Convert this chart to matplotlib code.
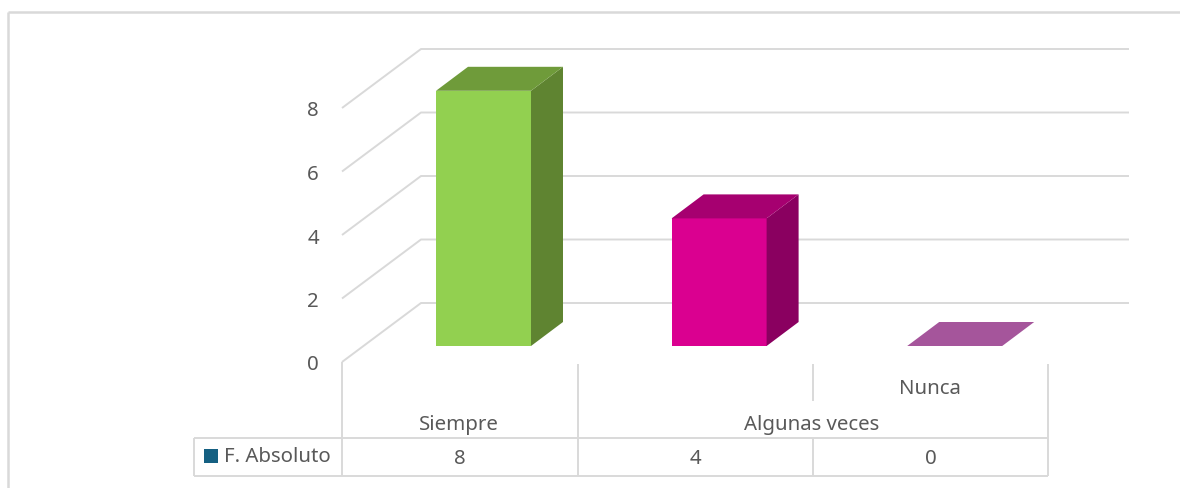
import matplotlib
matplotlib.use('Agg')
import matplotlib.pyplot as plt
from matplotlib.transforms import Affine2D
from matplotlib.patches import Polygon, Rectangle

categories = ['Siempre', 'Algunas veces', 'Nunca']
values = [8, 4, 0]
y_ticks = [0, 2, 4, 6, 8]
series_name = 'F. Absoluto'

front_colors = ['#92D050', '#DA0090', '#A5559B']
side_colors = ['#5F8431', '#8A0060', '#7B3F74']
top_colors = ['#6F9B3A', '#A60070', '#A5559B']
line_color = '#D9D9D9'
text_color = '#595959'

W, H = 1180, 489
plt.rcParams['font.family'] = ['Noto Sans', 'DejaVu Sans']

fig = plt.figure(figsize=(W / 100, H / 100), dpi=100)

# bars live in data units: x = category index, y = value
cat_step = 235.6
val_step = 31.9
x0, y0 = 483.5, 347
ax = fig.add_axes([0, 0, 1, 1])
ax.set_xlim(-x0 / cat_step, (W - x0) / cat_step)
ax.set_ylim((y0 - H) / val_step, y0 / val_step)
ax.axis('off')

# pixel transform for the frame, walls and table
pix = Affine2D().translate(0, 1).scale(1 / W, -1 / H).translate(0, 1) + fig.transFigure


def pline(xs, ys, lw=1.4):
    ax.plot(xs, ys, color=line_color, lw=lw, transform=pix, zorder=1,
            solid_capstyle='butt', clip_on=False)


def ptext(x, y, s, ha='center'):
    ax.text(x, y, s, transform=pix, ha=ha, va='center', color=text_color, fontsize=14.7)


# chart frame
pline([8, 8], [H, 12], lw=1.8)
pline([8, W], [12, 12], lw=1.8)

# walls and gridlines
tick_step = 31.75
depth_x, depth_y = 79, 59
for v in y_ticks:
    fy = 362 - v * tick_step
    pline([342, 342 + depth_x, 1129], [fy, fy - depth_y, fy - depth_y])
    ptext(319, fy + 2.5, str(v), ha='right')

# 3D bars
bar_w = 95 / cat_step
dx = 32 / cat_step
dy = 24 / val_step
xs = list(range(len(categories)))
ax.bar(xs, values, width=bar_w, color=front_colors, zorder=3)
for x, v, cs, ct in zip(xs, values, side_colors, top_colors):
    l, r = x - bar_w / 2, x + bar_w / 2
    ax.add_patch(Polygon([(r, 0), (r + dx, dy), (r + dx, v + dy), (r, v)], color=cs, lw=0, zorder=3))
    ax.add_patch(Polygon([(l, v), (r, v), (r + dx, v + dy), (l + dx, v + dy)], color=ct, lw=0, zorder=4))

# data table
cells = [342, 578, 813, 1048]
pline([194, 1048], [438, 438])
pline([194, 1048], [476, 476])
pline([194, 194], [438, 476])
pline([342, 342], [362, 476])
pline([578, 578], [364, 476])
pline([813, 813], [364, 401])
pline([813, 813], [438, 476])
pline([1048, 1048], [364, 476])

ptext(459, 424, categories[0])
ptext(812, 424, categories[1])
ptext(930, 387.5, categories[2])
for i, v in enumerate(values):
    ptext((cells[i] + cells[i + 1]) / 2, 457.5, str(v))

ax.add_patch(Rectangle((204, 449), 13.5, 14, color='#156082', lw=0, transform=pix, zorder=3))
ptext(224, 456.5, series_name, ha='left')

fig.savefig('out.png', dpi=100)
